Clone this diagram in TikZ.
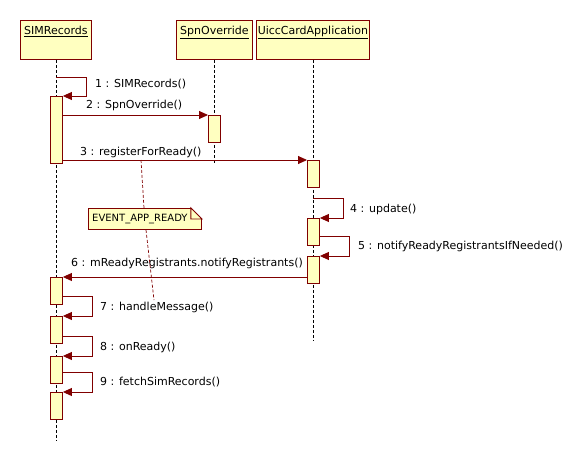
\documentclass[tikz,border=0pt]{standalone}
\usepackage{fontspec}
\setmainfont{DejaVu Sans}
\usetikzlibrary{arrows.meta,shapes.misc}
\definecolor{dred}{HTML}{800000}
\definecolor{byel}{HTML}{FFFFC0}
\begin{document}
\begin{tikzpicture}[x=1pt,y=-1pt,
  every node/.style={font=\fontsize{11}{13}\selectfont},
  head/.style={draw=dred,fill=byel,line width=0.9pt,minimum width=#1,minimum height=39pt,inner sep=0pt,anchor=north west},
  act/.style={draw=dred,fill=byel,line width=0.9pt,minimum width=12pt,minimum height=27pt,inner sep=0pt,anchor=north west},
  life/.style={densely dashed,line width=0.8pt,black},
  msg/.style={draw=dred,line width=0.9pt,-{Triangle[length=9pt,width=8pt]}},
  lbl/.style={anchor=west,inner sep=0pt},
  htext/.style={anchor=north,inner sep=0pt},
  notelink/.style={draw=dred,densely dashed,line width=0.7pt}
]
\useasboundingbox (0,0) rectangle (581,460);
% heads
\node[head=71pt] (hsim) at (20,20) {};
\node[htext] (tsim) at ([yshift=-6pt]hsim.north) {\underline{SIMRecords}};
\node[head=76pt] (hspn) at (176,20) {};
\node[htext] (tspn) at ([yshift=-6pt]hspn.north) {\underline{SpnOverride}};
\node[head=113pt] (huicc) at (256,20) {};
\node[htext] (tuicc) at ([yshift=-6pt]huicc.north) {\underline{UiccCardApplication}};
% lifeline ends
\coordinate (esim) at (56,440);
\coordinate (espn) at (214,163);
\coordinate (euicc) at (313,340);
\draw[life] (hsim.south -| esim) -- (esim);
\draw[life] (hspn.south -| espn) -- (espn);
\draw[life] (huicc.south -| euicc) -- (euicc);
% activations
\node[act,minimum height=67pt] (sa1) at (50,96) {};
\node[act] (sa2) at (50,277) {};
\node[act] (sa3) at (50,316) {};
\node[act] (sa4) at (50,356) {};
\node[act] (sa5) at (50,392) {};
\node[act] (pa1) at (208,115) {};
\node[act] (ua1) at (307,160) {};
\node[act] (ua2) at (307,218) {};
\node[act] (ua3) at (307,256) {};
% message 1
\coordinate (m1s) at (56,77);
\draw[msg] (m1s) -- (86,77) -- (86,96) -- (sa1.north east);
\node[lbl] (l1) at (95,84) {1 : SIMRecords()};
% message 2
\draw[msg] (sa1.east |- pa1.north) -- (pa1.north west);
\node[lbl] (l2) at (86,105) {2 : SpnOverride()};
% message 3
\draw[msg] (sa1.east |- ua1.north) -- (ua1.north west);
\node[lbl] (l3) at (80,152) {3 : registerForReady()};
% message 4
\coordinate (m4s) at (313,198);
\draw[msg] (m4s) -- (343,198) -- (343,218) -- (ua2.north east);
\node[lbl] (l4) at (350,209) {4 : update()};
% message 5
\draw[msg] (ua2.east |- 0,236) -- (349,236) -- (349,256) -- (ua3.north east);
\node[lbl] (l5) at (358,246) {5 : notifyReadyRegistrantsIfNeeded()};
% message 6
\draw[msg] (ua3.west |- sa2.north) -- (sa2.north east);
\node[lbl] (l6) at (71,263) {6 : mReadyRegistrants.notifyRegistrants()};
% message 7
\draw[msg] (sa2.east |- 0,296) -- (92,296) -- (92,316) -- (sa3.north east);
\node[lbl] (l7) at (100,307) {7 : handleMessage()};
% message 8
\draw[msg] (sa3.east |- 0,336) -- (92,336) -- (92,356) -- (sa4.north east);
\node[lbl] (l8) at (100,347) {8 : onReady()};
% message 9
\draw[msg] (sa4.east |- 0,372) -- (92,372) -- (92,392) -- (sa5.north east);
\node[lbl] (l9) at (100,382) {9 : fetchSimRecords()};
% note
\node[draw=dred,fill=byel,line width=0.9pt,anchor=north west,minimum width=113pt,minimum height=21pt,inner sep=0pt] (note) at (88,208) {};
\node[anchor=west,inner sep=0pt,font=\fontsize{10}{12}\selectfont] (ntext) at ([xshift=4pt]note.west) {EVENT\_APP\_READY};
\fill[white] (note.north east) -- ++(-11,0) -- ++(11,11) -- cycle;
\draw[dred,line width=0.9pt] ([xshift=-11pt]note.north east) -- ++(0,11) -- ++(11,0) -- cycle;
\coordinate (nl1) at (141,160);
\coordinate (nl2) at (154,300);
\draw[notelink] (nl1) -- (note.north -| 144,0);
\draw[notelink] (note.south -| 146,0) -- (nl2);
\end{tikzpicture}
\end{document}
